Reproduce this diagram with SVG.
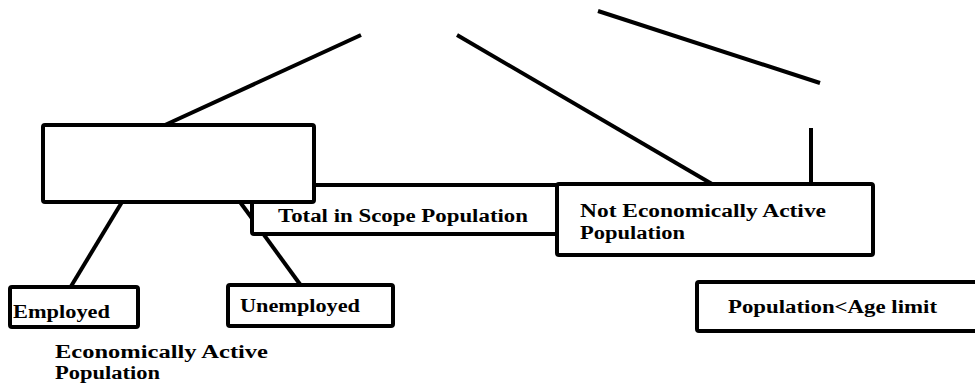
<svg xmlns="http://www.w3.org/2000/svg" width="975" height="385" viewBox="0 0 975 385">
<style>
.box{fill:#fff;stroke:#000;stroke-width:4;}
.ln{stroke:#000;stroke-width:4;fill:none;}
text{font-family:"Liberation Serif","Times New Roman",serif;font-weight:bold;font-size:18px;fill:#000;}
</style>
<rect width="975" height="385" fill="#fff"/>
<g id="connectors">
<line class="ln" x1="165" y1="125" x2="361" y2="35"/>
<line class="ln" x1="457" y1="35" x2="712" y2="184"/>
<line class="ln" x1="598" y1="11" x2="820" y2="83"/>
<line class="ln" x1="811" y1="128" x2="811" y2="184"/>
<line class="ln" x1="122" y1="202" x2="70" y2="288"/>
<line class="ln" x1="240" y1="202" x2="302" y2="287"/>
</g>
<g id="total">
<rect class="box" x="252" y="185" width="310" height="49" rx="2"/>
<text x="278" y="222" textLength="250" lengthAdjust="spacingAndGlyphs">Total in Scope Population</text>
</g>
<g id="econ-active">
<rect class="box" x="43" y="125" width="271" height="77" rx="2"/>
</g>
<g id="not-econ">
<rect class="box" x="557" y="184" width="316" height="71" rx="2"/>
<text x="580" y="217" textLength="246" lengthAdjust="spacingAndGlyphs">Not Economically Active</text>
<text x="580" y="239" textLength="105" lengthAdjust="spacingAndGlyphs">Population</text>
</g>
<g id="employed">
<rect class="box" x="10" y="287" width="128" height="40" rx="2"/>
<text x="13" y="318" textLength="97" lengthAdjust="spacingAndGlyphs">Employed</text>
</g>
<g id="unemployed">
<rect class="box" x="228" y="285" width="165" height="41" rx="2"/>
<text x="240" y="312" textLength="120" lengthAdjust="spacingAndGlyphs">Unemployed</text>
</g>
<g id="econ-label">
<text x="55" y="358" textLength="213" lengthAdjust="spacingAndGlyphs">Economically Active</text>
<text x="55" y="379" textLength="105" lengthAdjust="spacingAndGlyphs">Population</text>
</g>
<g id="age-limit">
<rect class="box" x="697" y="282" width="290" height="49" rx="2"/>
<text x="728" y="313" textLength="209" lengthAdjust="spacingAndGlyphs">Population&lt;Age limit</text>
</g>
</svg>
